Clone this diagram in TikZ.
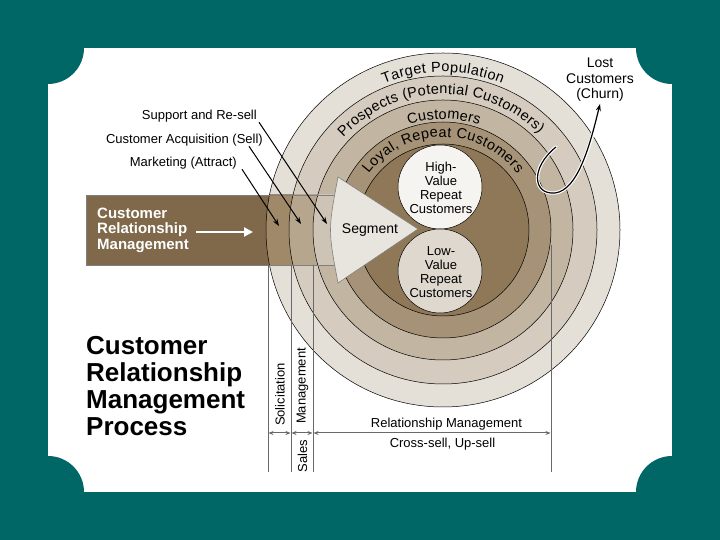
\documentclass[tikz,border=0pt]{standalone}
\usepackage{fontspec}
\setmainfont{Liberation Sans}
\usetikzlibrary{arrows.meta,decorations.text}
\definecolor{bgteal}{RGB}{0,102,102}
\definecolor{ringA}{RGB}{228,223,215}
\definecolor{ringB}{RGB}{213,204,191}
\definecolor{ringC}{RGB}{194,181,162}
\definecolor{ringD}{RGB}{166,147,119}
\definecolor{ringE}{RGB}{143,120,88}
\definecolor{barbrown}{RGB}{128,105,74}
\definecolor{barA}{RGB}{160,137,105}
\definecolor{barB}{RGB}{183,166,142}
\definecolor{barC}{RGB}{206,196,182}
\definecolor{barD}{RGB}{215,208,198}
\definecolor{trifill}{RGB}{232,228,222}
\definecolor{highfill}{RGB}{246,244,240}
\definecolor{lowfill}{RGB}{222,216,207}
\definecolor{dimgray}{RGB}{105,105,105}
\newcommand\ringfont{\fontsize{14.5}{15}\selectfont}
\begin{document}
\begin{tikzpicture}[x=1pt,y=1pt,
  ringline/.style={draw=black,line width=0.5pt},
  ringlabel/.style={decorate,decoration={text along path,text align={fit to path}}},
  lbl/.style={font=\fontsize{13}{14}\selectfont,inner sep=0pt},
  ptr/.style={-{Stealth[length=7pt,width=5pt]},line width=1pt,black},
  dimline/.style={draw=dimgray,line width=1pt},
  dimarrow/.style={{Stealth[length=5pt,width=4pt]}-{Stealth[length=5pt,width=4pt]},draw=dimgray,line width=1pt},
  inner/.style={font=\fontsize{13}{14}\selectfont,align=center,inner sep=0pt}]
\useasboundingbox (0,0) rectangle (720,540);
% background and card
\fill[bgteal] (0,0) rectangle (720,540);
\fill[white] (48,48) rectangle (672,492);
\foreach \cx/\cy in {48/48,672/48,48/492,672/492}
  \fill[bgteal] (\cx,\cy) circle[radius=36];
% concentric rings
\coordinate (C) at (443,310);
\fill[ringA,ringline] (C) circle[radius=177];
\fill[ringB,ringline] (C) circle[radius=154];
\fill[ringC,ringline] (C) circle[radius=130];
\fill[ringD,ringline] (C) circle[radius=108];
\fill[ringE,ringline] (C) circle[radius=86];
% bar
\begin{scope}
  \clip (86,275) rectangle (338,345);
  \fill[barbrown] (86,275) rectangle (338,345);
  \fill[barA,ringline] (C) circle[radius=177];
  \fill[barB,ringline] (C) circle[radius=154];
  \fill[barC,ringline] (C) circle[radius=130];
  \fill[barD,ringline] (C) circle[radius=108];
\end{scope}
\draw[draw=gray,line width=0.8pt] (86,275) rectangle (338,345);
% segment triangle
\filldraw[fill=trifill,draw=gray,line width=0.6pt] (338,363) .. controls (328,310) .. (338,257) -- (418,311) -- cycle;
\node[font=\fontsize{14}{15}\selectfont,inner sep=0pt] (seg) at (370,310) {Segment};
% high / low value circles
\filldraw[fill=highfill,ringline] (440,353) circle[radius=42];
\filldraw[fill=lowfill,ringline] (440,269) circle[radius=42];
\node[inner] (high) at (441,352.5) {High-\\Value\\Repeat\\Customers};
\node[inner] (low) at (441,267.5) {Low-\\Value\\Repeat\\Customers};
% ring labels
\path[ringlabel,decoration={text={|\ringfont|Target Population}}]
  ([shift={(C)}]112:158) arc[start angle=112,end angle=68,radius=158];
\path[ringlabel,decoration={text={|\ringfont|Prospects (Potential Customers)}}]
  ([shift={(C)}]137:136) arc[start angle=137,end angle=45,radius=136];
\path[ringlabel,decoration={text={|\ringfont|Customers}}]
  ([shift={(C)}]108:111) arc[start angle=108,end angle=71,radius=111];
\path[ringlabel,decoration={text={|\ringfont|Loyal, Repeat Customers}}]
  ([shift={(C)}]143:93) arc[start angle=143,end angle=37,radius=93];
% CRM bar text
\node[font=\fontsize{15}{15.5}\selectfont\bfseries,text=white,align=left,anchor=west,inner sep=0pt] (crm) at (97,310) {Customer\\Relationship\\Management};
\coordinate (crmtip) at (253,308);
\draw[white,line width=2.6pt,-{Triangle[length=9pt,width=9pt]}] ([xshift=7pt]crm.east |- crmtip) -- (crmtip);
% left labels and pointers
\node[lbl,anchor=east] (sup) at (257,424) {Support and Re-sell};
\node[lbl,anchor=east] (acq) at (263,400) {Customer Acquisition (Sell)};
\node[lbl,anchor=east] (mkt) at (237,377) {Marketing (Attract)};
\coordinate (tsup) at (327,316);
\coordinate (tacq) at (301,316);
\coordinate (tmkt) at (279,314);
\draw[ptr] ([xshift=2pt]sup.south east) -- (tsup);
\draw[ptr] ([xshift=-14pt]acq.south east) -- (tacq);
\draw[ptr] ([xshift=5pt]mkt.south east) -- (tmkt);
% lost customers
\node[font=\fontsize{14}{15.5}\selectfont,align=center,inner sep=0pt] (lost) at (600,460) {Lost\\Customers\\(Churn)};
\coordinate (churn0) at (556,393);
\coordinate (churnmid) at (555,347);
\draw[white,line width=3.4pt,line cap=round] (churn0) .. controls (530,372) and (533,345) .. (churnmid) .. controls (578,350) and (590,395) .. ([yshift=-6pt]lost.south);
\draw[line width=1.2pt,-{Stealth[length=7pt,width=5pt]}] (churn0) .. controls (530,372) and (533,345) .. (churnmid) .. controls (578,350) and (590,395) .. ([yshift=-2pt]lost.south);
% title
\node[font=\fontsize{26}{27}\selectfont\bfseries,align=left,anchor=west,inner sep=0pt] (title) at (86,153.5) {Customer\\Relationship\\Management\\Process};
% dimension lines
\coordinate (v1t) at (268,275); \coordinate (v1b) at (268,68);
\coordinate (v2t) at (291,275); \coordinate (v2b) at (291,68);
\coordinate (v3t) at (313,275); \coordinate (v3b) at (313,68);
\coordinate (v4t) at (551,295); \coordinate (v4b) at (551,68);
\draw[dimline] (v1t) -- (v1b);
\draw[dimline] (v2t) -- (v2b);
\draw[dimline] (v3t) -- (v3b);
\draw[dimline] (v4t) -- (v4b);
\coordinate (d1) at (268.5,107); \coordinate (d2) at (290.5,107);
\coordinate (d3) at (291.5,107); \coordinate (d4) at (312.5,107);
\coordinate (d5) at (313.5,107); \coordinate (d6) at (550.5,107);
\draw[dimarrow] (d1) -- (d2);
\draw[dimarrow] (d3) -- (d4);
\draw[dimarrow] (d5) -- (d6);
\node[lbl,rotate=90] (sol) at (280,145.5) {Solicitation};
\node[lbl,rotate=90] (mgmt) at (302.5,154) {Management};
\node[lbl,rotate=90] (sales) at (302.5,84) {Sales};
\node[lbl] (relm) at (446.5,116) {Relationship Management};
\node[lbl] (cross) at (442.5,96) {Cross-sell, Up-sell};
\end{tikzpicture}
\end{document}
